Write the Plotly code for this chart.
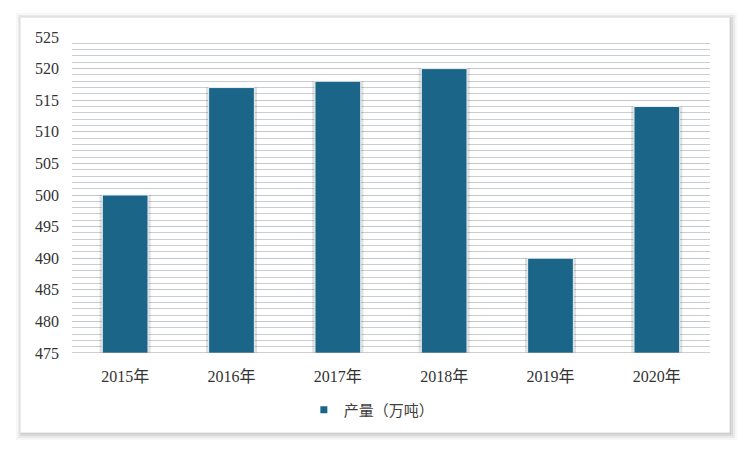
import plotly.graph_objects as go

# dados
anos = ["2015年", "2016年", "2017年", "2018年", "2019年", "2020年"]
producao = [500, 517, 518, 520, 490, 514]
nome_serie = "产量（万吨）"
y_ticks = [475, 480, 485, 490, 495, 500, 505, 510, 515, 520, 525]

COR_BARRA = "#1B6688"
FONTE = "Liberation Serif, Noto Sans CJK SC, serif"

fig = go.Figure()

# sombra suave das barras
fig.add_trace(go.Bar(
    x=anos, y=producao, width=0.48,
    marker=dict(color="rgba(0,0,0,0.12)", line=dict(width=0)),
    showlegend=False, hoverinfo="skip"
))
fig.add_trace(go.Bar(
    x=anos, y=producao, width=0.43, name=nome_serie, showlegend=False,
    marker=dict(color=COR_BARRA, line=dict(color="#E8F0F5", width=1))
))
# item da legenda com quadradinho pequeno
fig.add_trace(go.Scatter(
    x=[None], y=[None], mode="markers", name=nome_serie,
    marker=dict(symbol="square", size=7, color=COR_BARRA)
))

# a página tem margem de 8px no body; compensar
OFF = 8
L, R, T, B = 72 - OFF, 40 + OFF, 37 - OFF, 98 + OFF
W, H = 750, 451
pw, ph = W - L - R, H - T - B


def px(x):
    return (x - OFF - L) / pw


def py(y):
    return (H - B - (y - OFF)) / ph


for d, op in [(7, 0.03), (5, 0.05), (3, 0.07), (1, 0.09)]:
    fig.add_shape(type="rect", xref="paper", yref="paper", layer="below",
                  x0=px(20 - d + 3), x1=px(730 + d), y0=py(433 + d), y1=py(17 - d + 3),
                  fillcolor=f"rgba(0,0,0,{op})", line=dict(width=0))
fig.add_shape(type="rect", xref="paper", yref="paper", layer="below",
              x0=px(20), x1=px(730), y0=py(433), y1=py(17),
              fillcolor="white", line=dict(color="#D8D8D8", width=1))

fig.update_layout(
    width=W, height=H,
    margin=dict(l=L, r=R, t=T, b=B),
    paper_bgcolor="white",
    plot_bgcolor="#EEF4F9",
    barmode="overlay",
    font=dict(family=FONTE, size=16, color="#333333"),
    showlegend=True,
    legend=dict(orientation="h", x=0.47, xanchor="center", y=py(410), yanchor="middle",
                font=dict(family="Noto Sans CJK SC, sans-serif", size=15, color="#404040"),
                itemwidth=30, bgcolor="rgba(0,0,0,0)"),
    xaxis=dict(showgrid=False, showline=False, ticks="", tickfont=dict(size=16),
               ticklabelstandoff=12),
    yaxis=dict(range=[475, 525], tickvals=y_ticks, showgrid=True, gridcolor="#C3C7CB", gridwidth=1,
               minor=dict(dtick=1, showgrid=True, gridcolor="#CACED2", gridwidth=1),
               showline=False, zeroline=False, ticks="", ticklabelstandoff=12,
               tickfont=dict(size=16)),
)
fig.add_hline(y=475, line_color="#A0A0A0", line_width=1)

fig.write_html("out.html")
